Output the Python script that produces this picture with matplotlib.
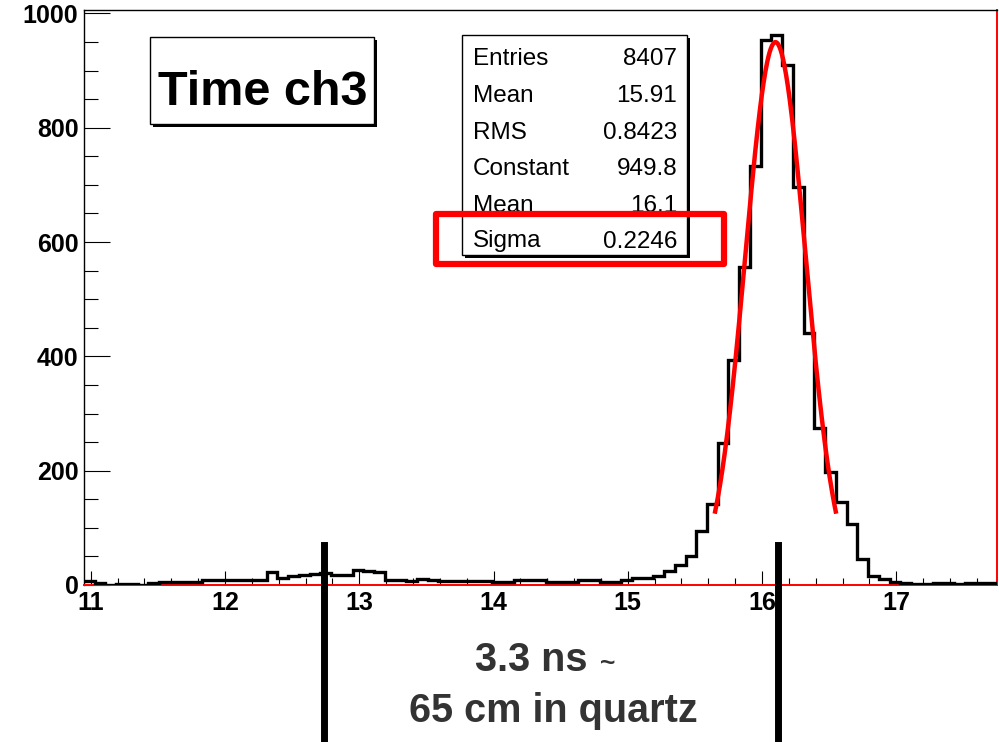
import numpy as np
import matplotlib.pyplot as plt
import matplotlib.transforms as mtransforms
from matplotlib.patches import Rectangle
from matplotlib.lines import Line2D

plt.rcParams['font.family'] = ['Liberation Sans', 'DejaVu Sans']

# histogram: 85 bins of 0.08 ns from 10.95 to 17.75
x_lo, x_hi, n_bins = 10.95, 17.75, 85
counts = [7, 3, 0, 2, 2, 0, 4, 5, 5, 5,
          5, 8, 8, 8, 8, 8, 8, 22, 13, 15,
          17, 19, 21, 18, 18, 27, 24, 22, 9, 8,
          7, 10, 8, 7, 7, 7, 7, 7, 6, 6,
          9, 9, 9, 6, 6, 6, 9, 9, 6, 6,
          9, 12, 13, 15, 25, 35, 50, 94, 142, 248,
          394, 557, 733, 954, 962, 909, 697, 441, 275, 197,
          145, 106, 45, 16, 11, 6, 4, 2, 1, 3,
          3, 2, 3, 4, 4]

# gaussian fit parameters (from the stats box)
fit_const, fit_mean, fit_sigma = 949.8, 16.1, 0.2246

stat_labels = ["Entries", "Mean", "RMS", "Constant", "Mean", "Sigma"]
stat_values = ["8407", "15.91", "0.8423", "949.8", "16.1", "0.2246"]

marker_x = [12.74, 16.12]     # hand-drawn black markers below the axis

W, H = 999, 742
def fx(px): return px / W
def fy(py): return 1 - py / H

fig = plt.figure(figsize=(W / 100, H / 100), dpi=100)
ax = fig.add_axes([fx(84), fy(585), fx(997) - fx(84), (585 - 10) / H])

edges = np.linspace(x_lo, x_hi, n_bins + 1)
ax.stairs(counts, edges, color="black", lw=2.4, baseline=None, zorder=3)

xf = np.linspace(fit_mean - 2 * fit_sigma, fit_mean + 2 * fit_sigma, 200)
ax.plot(xf, fit_const * np.exp(-0.5 * ((xf - fit_mean) / fit_sigma) ** 2),
        color="red", lw=3.2, zorder=4)

ax.set_xlim(x_lo, x_hi)
ax.set_ylim(0, 1006)
ax.set_xticks(range(11, 18))
ax.set_xticks(np.arange(11.2, 17.75, 0.2), minor=True)
ax.set_yticks(range(0, 1001, 200))
ax.set_yticks(range(50, 1001, 50), minor=True)
ax.tick_params(axis="x", which="major", direction="in", length=10, width=0.8, pad=4)
ax.tick_params(axis="x", which="minor", direction="in", length=5, width=0.8)
ax.tick_params(axis="y", which="major", direction="in", length=19, width=0.8, pad=4)
ax.tick_params(axis="y", which="minor", direction="in", length=10, width=0.8)
for lab in ax.get_xticklabels() + ax.get_yticklabels():
    lab.set_fontsize(18)
    lab.set_fontweight("bold")
for side in ["top", "left"]:
    ax.spines[side].set_linewidth(1.0)
for side in ["bottom", "right"]:
    ax.spines[side].set_color("red")
    ax.spines[side].set_linewidth(1.4)

# boxes with a ROOT-like shadow
def shadow_box(x0, y0, x1, y1, z=5):
    fig.add_artist(Rectangle((fx(x0 + 3), fy(y1 + 3)), fx(x1 - x0), (y1 - y0) / H,
                             transform=fig.transFigure, facecolor="black",
                             edgecolor="none", zorder=z))
    fig.add_artist(Rectangle((fx(x0), fy(y1)), fx(x1 - x0), (y1 - y0) / H,
                             transform=fig.transFigure, facecolor="white",
                             edgecolor="black", lw=1.0, zorder=z + 0.1))

shadow_box(150, 37, 374, 124)
fig.text(fx(158), fy(105), "Time ch3", fontsize=35, fontweight="bold",
         ha="left", va="baseline", zorder=6)

# stats box
shadow_box(462, 35, 687, 255)
baselines = [65, 102, 139, 175, 211.5, 247.5]
for lab, val, b in zip(stat_labels, stat_values, baselines):
    fig.text(fx(473), fy(b), lab, fontsize=17.5, ha="left", va="baseline", zorder=6)
    fig.text(fx(677), fy(b), val, fontsize=17.5, ha="right", va="baseline", zorder=6)

# red highlight around Sigma
fig.add_artist(Rectangle((fx(436), fy(264)), fx(724 - 436), (264 - 214) / H,
                         transform=fig.transFigure, facecolor="none",
                         edgecolor="red", lw=4.5, joinstyle="round", zorder=7))

# marker lines below the axis
blend = mtransforms.blended_transform_factory(ax.transData, fig.transFigure)
for xm in marker_x:
    fig.add_artist(Line2D([xm, xm], [fy(545), 0], transform=blend,
                          color="black", lw=5, zorder=8))

fig.text(fx(475), fy(671), "3.3 ns", fontsize=28.5, fontweight="bold",
         color="#333333", ha="left", va="baseline")
fig.text(fx(600), fy(671), "~", fontsize=19, fontweight="bold",
         color="#333333", ha="left", va="baseline")
fig.text(fx(553), fy(721.5), "65 cm in quartz", fontsize=28.5, fontweight="bold",
         color="#333333", ha="center", va="baseline")

fig.savefig("out.png", dpi=100)
